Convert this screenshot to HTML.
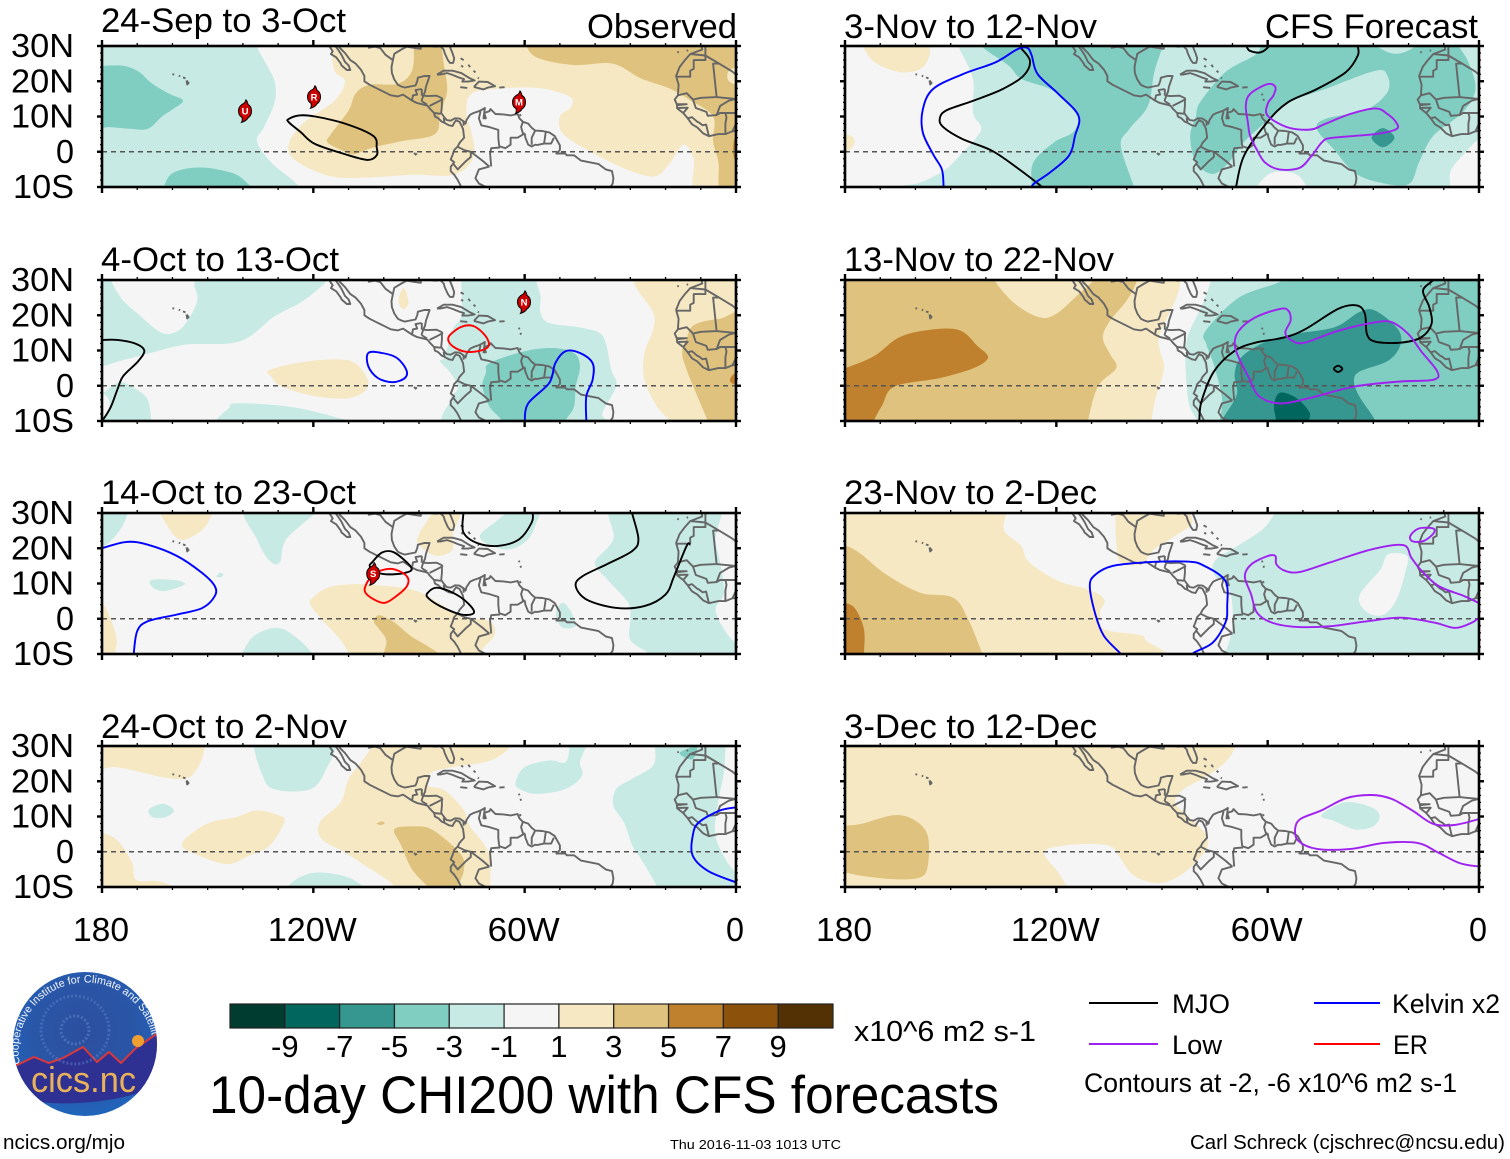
<!DOCTYPE html>
<html lang="en">
<head>
<meta charset="utf-8">
<title>10-day CHI200 with CFS forecasts</title>
<style>
html,body{margin:0;padding:0;background:#fff;}
svg{display:block;font-family:"Liberation Sans",sans-serif;}
</style>
</head>
<body>
<svg id="chart" xmlns="http://www.w3.org/2000/svg" width="1510" height="1159" viewBox="0 0 1510 1159">
  <g id="panels"></g>

  <g font-size="34" fill="#000">
    <text x="587" y="38" textLength="150" lengthAdjust="spacingAndGlyphs">Observed</text>
    <text x="1265" y="38" textLength="213" lengthAdjust="spacingAndGlyphs">CFS Forecast</text>
  </g>

  <g id="colorbar"></g>
  <text x="854" y="1041" font-size="29" textLength="182" lengthAdjust="spacingAndGlyphs">x10^6 m2 s-1</text>
  <text x="209" y="1113" font-size="53" textLength="790" lengthAdjust="spacingAndGlyphs">10-day CHI200 with CFS forecasts</text>

  <g font-size="27">
    <line x1="1089" x2="1158" y1="1003" y2="1003" stroke="#000" stroke-width="2"/>
    <text x="1172" y="1013" textLength="58" lengthAdjust="spacingAndGlyphs">MJO</text>
    <line x1="1314" x2="1380" y1="1003" y2="1003" stroke="#0000ff" stroke-width="2"/>
    <text x="1392" y="1013" textLength="108" lengthAdjust="spacingAndGlyphs">Kelvin x2</text>
    <line x1="1089" x2="1158" y1="1044" y2="1044" stroke="#a020f0" stroke-width="2"/>
    <text x="1172" y="1054" textLength="50" lengthAdjust="spacingAndGlyphs">Low</text>
    <line x1="1314" x2="1380" y1="1044" y2="1044" stroke="#ff0000" stroke-width="2"/>
    <text x="1393" y="1054" textLength="35" lengthAdjust="spacingAndGlyphs">ER</text>
    <text x="1084" y="1092" textLength="373" lengthAdjust="spacingAndGlyphs">Contours at -2, -6 x10^6 m2 s-1</text>
  </g>

  <g font-size="20">
    <text x="3" y="1149" textLength="122" lengthAdjust="spacingAndGlyphs">ncics.org/mjo</text>
    <text x="670" y="1149" font-size="13" textLength="171" lengthAdjust="spacingAndGlyphs">Thu 2016-11-03 1013 UTC</text>
    <text x="1190" y="1149" textLength="315" lengthAdjust="spacingAndGlyphs">Carl Schreck (cjschrec@ncsu.edu)</text>
  </g>

  <g>
    <defs>
      <radialGradient id="logoSky" cx="50%" cy="42%" r="60%">
        <stop offset="0" stop-color="#2c4f9e"/>
        <stop offset="0.6" stop-color="#2a56a8"/>
        <stop offset="1" stop-color="#1f66bd"/>
      </radialGradient>
      <clipPath id="logoClip"><circle cx="85" cy="1044" r="72"/></clipPath>
      <path id="logoArc" d="M 20 1064 A 66 66 0 1 1 152 1036"/>
    </defs>
    <circle cx="85" cy="1044" r="72" fill="url(#logoSky)"/>
    <g clip-path="url(#logoClip)">
      <path d="M10 1067 L17 1065 L34 1057 L49 1063 L63 1058 L83 1047 L97 1062 L109 1052 L121 1063 L136 1048 L158 1033 L160 1082 C140 1102 40 1112 14 1094 Z" fill="#2e3192"/>
      <path d="M10 1067 L17 1065 L34 1057 L49 1063 L63 1058 L83 1047 L97 1062 L109 1052 L121 1063 L136 1048 L158 1033" fill="none" stroke="#d8383a" stroke-width="2"/>
      <circle cx="138" cy="1041" r="6" fill="#f0a030"/>
      <circle cx="75" cy="1030" r="14" fill="none" stroke="#5c82c8" stroke-width="3" stroke-dasharray="2 2" opacity="0.6"/>
      <circle cx="75" cy="1030" r="34" fill="none" stroke="#5c82c8" stroke-width="3" stroke-dasharray="2 2" opacity="0.5"/>
    </g>
    <text font-size="10.8" fill="#f2f6ff"><textPath href="#logoArc">Cooperative Institute for Climate and Satellites</textPath></text>
    <text x="31" y="1092" font-size="36" fill="#e9b25a" textLength="105" lengthAdjust="spacingAndGlyphs">cics.nc</text>
  </g>
</svg>

<script>
/* ---------- axis definitions ---------- */
const lonTicks = [180, 120, 60, 0];
const lonTickLabels = ["180", "120W", "60W", "0"];
const latTicks = [30, 20, 10, 0, -10];
const latTickLabels = ["30N", "20N", "10N", "0", "10S"];
const panelTitles = ["24-Sep to 3-Oct", "4-Oct to 13-Oct", "14-Oct to 23-Oct", "24-Oct to 2-Nov", "3-Nov to 12-Nov", "13-Nov to 22-Nov", "23-Nov to 2-Dec", "3-Dec to 12-Dec"];
const colorbarLevels = [-9, -7, -5, -3, -1, 1, 3, 5, 7, 9];
const shadeKeys = ["t5", "t4", "t3", "t2", "t1", "w", "b1", "b2", "b3", "b4", "b5"];

/* ---------- shaded contours: [shade, [lonW, lat, ...]] ---------- */
const fillsP1 = [
 ["t1",[185,35,136,35,136,30,134,26,131,20,131,14,134,7,136,3,132,-3,124,-10,124,-15,185,-15]],
 ["t2",[185,22,176,24.5,170,23,166,19.5,161,16.5,157,14.5,160,12,163,10,167,6.5,172,6.5,178,7,185,7]],
 ["t2",[163,-12,161,-7,157,-5,151,-4.5,145,-5.5,141,-7,137,-11,137,-14,163,-14]],
 ["b1",[116,35,115,30,114,23,111,20,114,14.5,123,8,127,2,125,-2.5,115,-7,104,-7.3,92,-6.5,80,-6.5,74.5,-1.5,75,5,76.5,11,75,16.5,66,18,55.5,18,47,15.5,47,12.5,50,10,49,5,40,-0.7,30,-5.4,23,-7,19,-3.5,15,2,12,-2,11,-12,-5,-12,-5,35]],
 ["b2",[60,35,59.5,30,56,26.5,46,24.6,35,25,27,20.8,19,18,13,14.6,6.5,10,6.5,3,5,-3,4,-12,-5,-12,-5,35]],
 ["b3",[-2,5,0.5,3.5,0.5,-2,-2,-3]],
 ["b1",[-2,24,2,23,2,20,-2,19]],
 ["b2",[92,35,91.5,30,92,23,96,19.3,104,19,108,16.5,110,11.7,115,5,116,2.7,112,0.5,108.5,-0.7,103,1.2,95,3,85.5,5,84,11,82,17.4,83,25,83.5,30,83.5,35]]
];
const fillsP2 = [
 ["t1",[185,35,116,33,116,30,123,24,131,19.7,138,14,144,12,156,11.7,164.4,9.8,170,8.3,175,7,180,5.5,185,5]],
 ["w",[176,32,175,25.5,169,19.7,163,15,158.5,15.5,155.5,18.8,153,24,153.7,28,156,32]],
 ["t1",[175,1,170.3,-1,167,-4,166,-10,166,-13,185,-13,185,-2,180,-2]],
 ["w",[181,-2,178,-4,178.5,-8,181,-9]],
 ["t1",[145,-12,143.7,-6,142,-5,132,-5.4,122,-6.8,110,-10,105,-12]],
 ["b1",[132.4,4.5,121.8,6.9,110,7.2,105,2.7,105,-1.1,110,-3.5,119.4,-3,129,-0.2,132,2.7]],
 ["b1",[94.3,27.8,93,24,94,21.8,95.4,22.6,95.7,25]],
 ["t1",[78,35,78,30,78,20,80.4,16,82.7,8.3,84,6.9,81,3.6,79,-0.7,81,-4,80,-12,37,-12,38,-8,34,0,35.4,4.5,37.8,14,43.7,16.4,53,17.8,55.5,20.7,55.5,25.4,56.7,30,56.7,35]],
 ["t2",[70,6.4,60,9.8,52,10.7,46,9.3,44.3,5.5,45.5,-0.2,46,-6,48.4,-10,48.4,-13,66.7,-13,66.7,-9.7,70,-5.9,72,-0.2,71,3.6]],
 ["b1",[29,35,29,30,28,27.3,23.5,20.7,23.5,16,26,9.3,26,1.7,22.4,-6,18.8,-10,18,-13,-5,-13,-5,35]],
 ["b2",[-5,19.5,4.6,19,11.8,17.3,14,13.5,15.3,9.3,14,4.5,11.8,-1,8,-10,7,-13,-5,-13]],
 ["b3",[-2,4.5,1,3,1.5,1,-2,0]]
];
const fillsP3 = [
 ["t1",[185,35,172.7,33,172.7,30,175,25,180,20,185,19]],
 ["b1",[163,32,161,25.7,157.5,22.4,152.7,24.3,149.8,27.6,149.5,32]],
 ["t1",[139,32,136,22.5,132.4,16.4,129.5,16,127.7,22.5,119.4,30,118,32]],
 ["t1",[166,11,159.5,11,156.5,9.8,162,7.9,165.5,8.8]],
 ["t1",[147.5,12,146.5,13,145.5,12.6,146.3,11.8]],
 ["b1",[185,6,180,4.5,177.6,0,175.8,-6,176.4,-10,176,-13,185,-13]],
 ["t1",[140.7,-11,137,-5,130,-2.6,124,-6,119.4,-11,119,-13,141,-13]],
 ["b1",[120.6,5.5,116,8.8,108.8,9.8,99.3,9.3,92.2,8.3,87.5,6.4,78,0.8,70,-0.7,68.5,-4.5,72,-8.7,74,-13,110,-13,110,-10,112.3,-6,117.6,-0.2,120.6,3.6]],
 ["b2",[102.8,-0.7,101.6,1,99.3,0.3,96.9,-1.1,92.2,-5,87.5,-7.8,84.5,-10,84,-13,100,-13,100,-10,99.3,-6,101.6,-2.6]],
 ["b1",[90,24,86.3,30,85,33,78,33,78,30,80.4,24,80.4,19.7,84,17.8,87.4,18.8,90.4,21.6]],
 ["t1",[72.7,23.5,68.5,27.3,63,31,56,31,56.7,27.3,59,22.6,64,19.7,69.7,20.7]],
 ["t1",[50.9,2.7,49,4.5,46.7,1.7,45.5,-2,49,-2.6,50.9,-0.2]],
 ["t1",[34,33,34.8,22.6,40,16,36.6,11.2,30.6,4.5,30,0,30,-6,24.7,-10,24,-13,-5,-13,-5,-8,0,-6.8,3.4,-3,5.8,2.7,3.4,7.4,4.5,16,5.8,22.6,4,30,4,33]]
];
const fillsP4 = [
 ["b1",[185,33,150.8,33,150.8,30,152,25.4,155.5,21,162,21,169,22.6,176,24,180,23.5,185,23]],
 ["t1",[137,33,137,30,134.8,22.6,131.3,17.8,120.6,17.8,115.8,24.5,113.5,30,113,33]],
 ["t1",[166.7,12,162.6,13.6,159.6,11.7,162,9.8,165.6,9.8]],
 ["b1",[185,7,180,5.5,175.4,3,171.5,-3,170.3,-8,164.4,-8.3,160,-10,159,-13,185,-13]],
 ["b1",[157.3,2.2,150.3,7.9,142,9.8,136,11.7,129.5,10.2,128.3,8.3,132.4,1.7,138.3,-1.1,144.3,-3.5,152.5,-1.1]],
 ["t1",[128.3,-11,124,-7.3,118.4,-5.9,110,-7.3,104.6,-11,104,-13,129,-13]],
 ["b1",[103.4,33,103.4,30,106.4,25.4,110,20.7,112.3,14,118.2,8.3,117.6,3.6,111,-0.2,105.2,-4,99.3,-7.8,97,-10,96,-13,69.5,-13,69.7,-10,70.3,-0.2,75.6,7.4,77.4,12,82.7,17.4,87,18.5,87.5,20,86.3,22.6,80.4,24,69.7,25.9,63.8,30,63,33]],
 ["b2",[97,6.4,91,7.2,86.5,6.4,80.4,1.7,77.4,-2,77.4,-6,79,-10,79,-13,86,-13,87.5,-10,92,-5,95,1.7]],
 ["b2",[102,8,100.5,8.6,99.8,8,101,7.6]],
 ["t1",[62.6,19.7,60,24,53,25.9,48.4,25.4,47.2,30,47,32,42.5,32,42.5,30,44.3,25.4,43.7,21.6,48.4,17.8,56.7,16.4,61.4,17.8]],
 ["t1",[23,33,23,30,23.5,24.5,29.4,20.7,34,17.8,34.8,13,31.8,8.3,29.4,1.7,27,-2,22.4,-10,22,-13,-5,-13,-5,-6,0,-5.9,4,-0.2,5.8,4.5,5.8,9.3,4.5,17,3.4,22.6,3,30,3,33]],
 ["t2",[16,28,13,29.5,11,30,12,26.5,14,26.5]]
];
const fillsP5 = [
 ["b1",[176,33,175,30,171.6,25.4,164.4,22.6,158.5,23.5,156,27.3,156,30,156,33]],
 ["b1",[183,5.5,180,5,177.6,4,177.6,1.7,180,0,183,0]],
 ["t1",[148,33,147.8,30,143.7,20.7,143.7,11.2,141.3,6.9,143,3.6,146.6,-0.2,151.4,-5,158.5,-8.7,164.4,-10,165,-13,-5,-13,-5,33]],
 ["w",[8.2,-13,8.2,-10,8,-5.4,4.6,-1,0,3.6,-5,5,-5,-13]],
 ["w",[63.8,-11,59,-6,52,-6.3,48.4,-11,48,-14,64,-14]],
 ["t2",[141.3,33,141.3,30,133.6,24.5,130,20.7,121.8,17.8,117,14,113.7,9.8,115.3,5.5,120.6,2.7,126.5,-3,127,-10,127,-13,98,-13,98,-10,101.7,1.7,99.3,6.4,94,13,92.2,22.6,89.8,30,89.8,33]],
 ["t2",[62,33,62,30,63.8,27.3,72,22.6,79.2,14,80.4,9.8,82,4.5,80.4,-3,75.6,-6.3,71,-3,66.8,2.7,59,9.8,54.3,14,43.7,17.8,29.4,23,26,21.6,26,16.9,32,12,43.7,9.3,46,6.4,41.3,0.8,35.4,-5.9,28.3,-8.7,20,-9.2,17,-3,13,4.5,4.6,11.2,1,17.8,3,25.4,5.8,30,7,33,18,33,18,30,23.5,27.8,29,30,29,33]],
 ["t3",[30.5,4,27.3,6.7,24,4,27.3,1.3]]
];
const fillsP6 = [
 ["b1",[185,33,85,33,84.7,30,85.9,25,90.6,14.6,90.6,9.9,89.4,5,91.8,-3.5,93,-10,93,-13,185,-13]],
 ["b2",[185,33,97,33,97,30,100,24.2,104.7,18.5,106.8,13.7,104.7,8.9,103,5,108.2,-0.2,111,-10,111,-13,185,-13]],
 ["b1",[137.6,33,137.6,30,131.8,23.3,124.7,19.4,120,20.4,114,25.7,109.4,30,109,33]],
 ["b3",[185,4,180,5,171.8,8.4,164.7,13.7,156.5,15.8,147.6,15.8,142.4,11.3,139.4,8,143.5,5,153,2.2,165.9,-0.2,169.4,-5.5,171.8,-10,172,-13,185,-13]],
 ["t1",[76,33,76,30,79,22,82.4,15,83.3,10,83.3,5,82.4,-5,80,-10,80,-13,-5,-13,-5,33]],
 ["t2",[54,33,56.5,29.5,68.2,25,77.6,15.6,77.4,11.8,75.3,6,73,-3.5,73.6,-10,73.6,-13,-5,-13,-5,33]],
 ["t3",[73,-10,68.8,-2.6,69.4,3.2,67.6,8,61.2,12.2,53,14.6,41,16.6,34,20.9,29.4,21.3,23,16,22.4,11.3,26,7,34,4,35.5,1.2,34,-3,29.4,-10,29,-14,73,-14]],
 ["t4",[58.2,-5.5,56.5,-2,51.8,-3.5,48.2,-7.4,48.2,-10,48.2,-14,57.6,-14,57.6,-10]]
];
const fillsP7 = [
 ["b1",[185,33,134,33,134.2,30,134.8,25,130,20.7,127.7,16,119.4,10.7,111,8.3,106.4,5.5,107.6,1.7,106.4,-3,97,-4.5,94.8,-5.9,94.8,-13,185,-13]],
 ["b1",[103.2,33,103.2,30,103,22,101.8,16,96,15.5,92.2,19.7,86.3,23.5,81.6,26.8,82,30,82,33]],
 ["b2",[185,20,180,20.7,175.4,18.3,168.4,12.6,158.7,7.4,149.3,6,145,-0.2,141,-10,140,-13,185,-13]],
 ["b3",[185,5,180,4.5,177,2.7,174.6,-3,174.6,-10,174.6,-13,185,-13]],
 ["t1",[57,33,58,30,61.4,25.4,68.5,20.7,75,16.4,75,12.2,71.4,9.8,70,3.6,70.3,-4,72,-10,72,-13,-5,-13,-5,33]],
 ["w",[34,6.4,28,14,25.8,18.3,20.4,17.8,21,13,23.4,5.5,27,1.2,31.6,1.7]]
];
const fillsP8 = [
 ["b1",[185,33,68,33,69,30,72,25.4,78,21,83.8,17.8,86.3,14,82.7,10.2,78,5.5,77,1.7,80.4,-3,85,-6.8,91,-8.9,98,-6.8,101.7,-2,104,1.2,108.8,2.2,118.2,1.7,123.5,-0.2,119.4,-5.9,117,-10,116,-13,185,-13]],
 ["b2",[185,7,180,7.4,175.4,7.9,165.9,10.4,160,8.8,156.5,4.5,156.5,-4,158.7,-7.3,165.9,-7.8,175.4,-6.8,180,-5.9,185,-5.5]],
 ["t1",[44.8,10.2,40,13.5,35.4,14,29.4,12,28.3,9.3,30.6,6.9,35.4,6.4,41.3,8.8]]
];

/* ---------- wave contours: [type, closed, [lonW, lat, ...]] ---------- */
const linesP1 = [
 ["mjo",true,[127,9.3,124,10.3,119.5,10,111,8,103,4.5,102,1.2,102,-1,104.5,-2.3,110,-1,119.5,2.2,123.5,5.5,127,8.4]]
];
const linesP2 = [
 ["mjo",false,[183,13,180,13,175.6,13,170.6,12,168,10,169.7,7,174,2.7,175.6,-1,177.5,-6,180,-10,182,-12]],
 ["kelvin",true,[104.4,9.3,100.5,9.3,96.3,7.9,93.6,4.5,94,2.2,97.5,1,101.7,2.2,104.4,5.5]],
 ["er",true,[81.5,14,78,16.7,74.4,16.9,71,14,70.3,11.2,73.3,9.8,77.5,9.8,81,11.7]],
 ["kelvin",false,[60,-12,60,-10,59,-5,53,0.8,51.3,6.4,48.4,9.8,44.3,9.3,40.7,6.4,40.7,1.7,42.5,-3,42.5,-10,42.5,-12]]
];
const linesP3 = [
 ["mjo",false,[77.4,32,77.4,30,77.4,24.5,73.3,21.4,67.3,20.7,61.5,22.6,58,27.3,57.7,30,57.7,32]],
 ["mjo",false,[29.5,32,29.5,30,27.7,22.6,29.5,19.2,36.6,15.5,43.7,12,45.5,9.3,42.5,5.5,34.2,3.1,26,3.6,20,6.9,17.6,12,14,20.7,13,21]],
 ["mjo",true,[103.4,15.9,100.5,18.8,97,18.8,92.2,14.5,94,13,99.3,12.6,102.8,13.5,104,15]],
 ["mjo",true,[87.5,7.4,85,8.8,80.4,7.4,76.2,4.5,74.4,1.7,78,1.2,84,3.6,87.5,6]],
 ["er",true,[105.2,9.3,103.4,12,100.5,13.8,96.9,14,93.4,12,93.4,9.3,97,6,99.9,4.5,102.8,5.5,105.2,7.4]],
 ["kelvin",false,[182,19,180,20,173,21.8,167,21,158.7,17.8,151.6,13,148,9.3,148,6.4,151.6,3,158.7,1.2,167,-0.7,170,-3.5,171,-10,171,-12]]
];
const linesP4 = [
 ["kelvin",false,[-2,13,0,12.6,4.6,11.7,10.6,8.3,12.3,4.5,12.3,-1.1,8,-5.4,0,-8.7,-2,-9.5]]
];
const linesP5 = [
 ["mjo",false,[66.5,32,66,30,65,28.6,62,28.2,59.6,30,59,32]],
 ["mjo",false,[131,32,130.5,30,127.5,25.9,129.3,21.6,135.2,17.8,143.5,14.5,151.3,11.7,153.1,9.3,152,6.9,146.6,3.6,138.3,0.3,131.2,-4.5,124,-10,122,-12]],
 ["mjo",false,[69.4,-12,69,-10,66.7,-1.1,60.2,8.3,54.3,14,46,17.8,37.8,22.6,34.4,27.3,34.4,30,34.4,32]],
 ["kelvin",false,[152,-12,152,-10,152.5,-5,155,-0.7,157.9,5.5,157.9,12,155,17.8,146.6,22,137.2,25.4,131.2,29,128.3,29.5,127,27.3,125.3,22,119.4,16.4,113.7,10.2,114.7,4.5,116.4,-1.1,121.8,-5.9,126.5,-9.2,128,-12]],
 ["low",true,[60,19.2,57.8,18.3,58.4,15.9,60,13.6,60,10.2,54.3,6.9,47.8,6.3,43.7,7.9,36.6,10.7,29.4,12.3,26,10.7,23.5,8.3,23.5,6.4,29.4,5,41.3,4,44.3,3,47.2,-0.7,50.8,-4.5,56.7,-5,60.8,-3,63.2,0.8,65,4.5,65.6,8.3,66.2,13,65,16.4]]
];
const linesP6 = [
 ["mjo",false,[79.4,-12,79.4,-10,78.8,-4.5,75.3,4,69.4,9.9,63.5,12.2,55.3,13.7,49.4,16,40,21.8,34.7,22.8,32.4,20.4,31.8,14.6,29.4,12.5,22.4,12.2,16.5,13.7,13.5,17.5,14.1,22.3,15.9,27,13,30,12,32]],
 ["mjo",true,[41.2,4.8,40,5.7,38.8,4.8,40,3.9]],
 ["low",true,[56.5,21.8,54.1,21.3,53.5,18.5,55,15,52.9,12.7,49.4,12.2,40,15.6,29.4,18,24.7,18,20,14.6,16.5,9.9,11.8,4,13,1.7,22.4,1.2,35.3,-0.2,48.2,-3.5,56.5,-5,62.4,-3,65.3,2.2,68.2,8,69.4,11.8,68.2,15.6,63.5,19.4]]
];
const linesP7 = [
 ["kelvin",false,[100.5,-12,101.7,-10,106.4,-5,108.8,0.8,110.5,9.3,108.8,12.6,104,15,94.6,16,82.7,16.2,78,15,72,10.7,71.5,3.6,72,-1.1,75.6,-6.8,81,-9.7,83,-12]],
 ["low",false,[-2,1,0,0.3,2,-1.1,6.8,-2.6,12.7,-1.1,22.2,0.3,31.6,-0.7,42.2,-2.1,51.7,-2.3,58.8,-1.1,63,1.7,64.7,6.9,66.5,12,64.7,15.4,60,17.8,57.8,17.8,57.5,15.4,54.8,13.5,50.7,13.3,42.2,16,30.4,19.7,21.5,20.9,19.2,17.3,16.2,13.5,11.5,9.3,4.4,6.5,0,4.5,-2,4]],
 ["low",true,[19.5,23.5,17.1,25.6,13,25.6,13,24.1,15.9,22,18.9,22]]
];
const linesP8 = [
 ["low",false,[-2,10,0,9.3,7,7.6,13,7.9,18.9,11.7,24.8,15,30.6,16.1,37.7,15.2,44.8,11.7,50.7,9.3,52.2,6.4,51.3,3.1,46,0.8,36.4,0.8,27,2.5,17.5,2.5,11.6,-0.2,5.6,-3.2,0,-4.2,-2,-4.4]]
];

/* ---------- tropical storm tracks: [letter, lonW, lat] ---------- */
const stormsP1 = [["U",139.4,11.6],["R",119.8,15.6],["M",61.6,14.1]];
const stormsP2 = [["N",60.2,23.8]];
const stormsP3 = [["S",103,12.8]];

/* ---------- geography (lonW, lat) ---------- */
const coastPacific = [118,34,117,32.5,116,31,115.5,30,114.5,28.5,115,27.7,113.5,26.8,112.2,25,112,24.5,110.5,23.2,109.5,23.2,110,24.5,111,25.5,112,27.5,113,29,114.5,31,114.8,31.8,113.5,31.5,112.5,29.5,111,28,109.5,26,108,25,106.5,23.3,105.5,21.5,105.5,20,104,19,102,18,100,17,98,16,96,15.7,94.5,16.2,93,15.2,92,14.5,90.5,13.8,88,13.2,87.5,13,87,12.3,85.7,11,85.5,10,84.5,9.5,83.5,8.5,82.8,8.2,81.5,7.5,80.5,7.3,80,8.2,79.5,8.9,78.5,8.5,78,7.5,77.5,6.5,77.3,5,77.2,4,78.5,2.5,79,1.5,80,0.5,80.5,-1,81,-2.2,80,-3,81,-4.3,81,-5.5,80,-6.5,79,-8,78,-10,77,-12];
const coastAtlantic = [81,32,81.3,30,80.5,28,80,26.5,80.3,25.2,81.2,25.2,81.8,26,82.7,28,83,29,84,30,85.5,29.8,88,30.3,89.5,30,89.5,29.2,91,29.4,93.5,29.8,95,29,97,27.8,97.4,26,97.8,24,97.7,22.3,97,20.5,96,19,95,18.5,94,18.2,92.5,18.5,91,18.8,90.5,20,90.3,21,88.5,21.5,87,21.5,87.5,20,88,18.5,88.3,17,88.8,15.9,87.5,15.8,85,15.9,83.5,15.2,83.5,13,83.7,11,83,10,82.2,9,81,8.8,79.8,9.5,78.5,9.4,77.3,8.6,76.8,8,76.5,9,75.5,10.5,74.5,11,73,11.5,72,12,71.3,12.4,71.5,11,71.7,9.5,71,9.5,71.5,11,70,11.5,69.7,12.1,68.3,10.7,66,10.6,64,10.3,62,10.7,61.5,9.5,60.5,8.5,59,8,58,6.8,57,6,55,5.9,53,5.5,51.5,4.5,50,1.8,50,0.5,51,-0.5,50,-0.5,48.5,-0.5,48,-1,46,-1,44,-2.5,41.5,-3,39,-3.5,37,-5,35.2,-5.5,34.8,-7.5,35,-9,36,-10.5,37,-12];
const coastAfrica = [9.5,31,9.8,30,9.6,29,13,27.7,14.5,26,16,24,17,21.5,16.3,19,16.5,16,17.4,14.8,16.8,13.5,16.7,12.3,15,11,13.7,9.5,12.5,7.8,11,6.9,9.3,5.2,7.7,4.4,5,5,3,5,1,5.8,-1,6];
const islandGroups = [
 [84.9,21.9,83,23,80.5,23,78,22.3,75.5,20.8,74.2,20.2,76,19.9,77.7,19.9,77.2,20.6,78.5,21,80.5,21.8,82,22.3,84,21.9,84.9,21.9],
 [74.4,18.4,73,19.9,70.5,19.8,68.4,18.6,70.5,18.2,71.7,17.7,74.4,18.4],
 [78.3,18.3,76.3,18.1],[67.2,18.2,65.7,18.3],[78.2,26.5,77.3,26],[78,24.5,77.5,24],[76,24.7,75.5,24],[74.5,23,74,22.5],[73.3,21,73,20.8],
 [61.6,16.5,61.5,16],[61.2,15,61,14.5],[61.5,10.6,61,10.2],
 [160,22,159.5,21.9],[158.2,21.6,157.8,21.4],[157,21.1,156.3,20.8],[156,20.2,155.4,19.5,155.8,19.1,156,20.2],
 [91.4,-0.3,91,-0.8,90.6,-0.5],[16.7,28.3,16.2,28.2],[14,28.6,13.6,28.8]
];
const borderLines = [
 [104.5,29.5,102.5,29.8,101,29.4,99.5,27.5,97.4,26],
 [92,14.5,91.7,16,90.5,16.2,91,17.5,89.2,17.8],[89.2,17.8,89.2,15.9],[88.8,15.9,89.3,14.4],[89.3,14.4,87.7,13.4],[87,13,85,14,83.2,15],[85.7,11,84,10.8,83.7,10.9],[83,9.6,82.8,8.2],[77.4,8.6,77.3,7.4],
 [60.5,8.5,61,7,60.5,5.2,60,5.2],[60,5.2,59.8,4,59,2,58,1.5,57,2,56.5,1.9],[57,6,58,4,58,2],[54,5.7,54.3,3.5,54.5,2.3],[56.5,1.9,54.5,2.3,52.5,2.3,51.7,4],
 [60,5.2,62,4,64,4,64,2,65.5,1,67,1.5],[72.5,11.5,73,9.5,72.3,7.5,70,7,67.5,6.2,67.5,4,67.3,2,67,1.2],[67,1.2,69.5,1,69.8,-0.5,69.5,-4.2],[79,1.4,77,0.4,75.3,0,74,-1,72,-2.5,70,-4.2],[75.3,0,75.3,-1.5,76.5,-2.5,78.5,-4.5,79,-5,80.3,-3.4],[70,-4.2,73,-5,74,-7.5,73,-9,71,-10,70.5,-11],
 [8.7,30,8.7,27.3,13,27.7],[8.7,27.3,8.7,26,12,26,12,23.5,13,23,13,21.3,16.5,21.3,17,21],[8.7,27.3,4.8,25,1,22.7,-1,21],[4.8,25,6.5,25,5.5,15.5,10,15.3,12.2,14.8,14,16.6,16.5,16],[16.7,13.5,14,13.5,16.7,13.2],[16.8,12.4,13.7,12.5,15,11],[13.7,9.5,12.5,9.8,11,8.5,10.5,8.3,9.5,7.5,8.5,7.7,7.7,4.4],[12.2,14.8,11.4,12.4,8.4,11.3,8,10.2,5.5,10.4,4.5,11,3,11,1,11,0,11],[3,5,3,8,2.7,9.7,3,11],[1,5.8,0,8,0,11],[5.5,10.4,4.5,13,2,14.5,0,15],[5.5,15.5,3.5,15.3,0,15]
];

/* ---------- rendering ---------- */
const SVGNS = "http://www.w3.org/2000/svg";
const shadeColors = {t5:"#003c30",t4:"#01665e",t3:"#35978f",t2:"#80cdc1",t1:"#c7eae5",w:"#f5f5f5",b1:"#f6e8c3",b2:"#dfc27d",b3:"#bf812d",b4:"#8c510a",b5:"#543005"};
const lineColors = {mjo:"#000000",kelvin:"#0000ff",low:"#a020f0",er:"#ff0000"};
const panelLefts = [102,102,102,102,845,845,845,845];
const panelTops = [46,280,513,746,46,280,513,746];
const panelFills = [fillsP1,fillsP2,fillsP3,fillsP4,fillsP5,fillsP6,fillsP7,fillsP8];
const panelLines = [linesP1,linesP2,linesP3,linesP4,linesP5,linesP6,linesP7,linesP8];
const panelStorms = [stormsP1,stormsP2,stormsP3,[],[],[],[],[]];
const titleWidths = [245,238,255,246,253,270,253,253];
const titleBaselines = [32,271,504,738,38,271,504,738];
const lonLabelWidths = [56,89,72,18];
const latLabelWidths = [63,63,63,18,61];
const PW = 634, PH = 141;

function mk(tag, parent, attrs) {
  const el = document.createElementNS(SVGNS, tag);
  for (const k in attrs) el.setAttribute(k, attrs[k]);
  parent.appendChild(el);
  return el;
}
const xScale = lon => (180 - lon) / 180 * PW;
const yScale = lat => (30 - lat) / 40 * PH;
function project(flat) {
  const out = [];
  for (let i = 0; i < flat.length; i += 2) out.push([xScale(flat[i]), yScale(flat[i + 1])]);
  return out;
}
function smoothPath(flat, closed) {
  const p = project(flat), n = p.length;
  const get = i => closed ? p[(i + n) % n] : p[Math.max(0, Math.min(n - 1, i))];
  let d = "M" + p[0][0].toFixed(1) + " " + p[0][1].toFixed(1);
  const end = closed ? n : n - 1;
  for (let i = 0; i < end; i++) {
    const a = get(i - 1), b = get(i), c = get(i + 1), e = get(i + 2);
    d += "C" + (b[0] + (c[0] - a[0]) / 6).toFixed(1) + " " + (b[1] + (c[1] - a[1]) / 6).toFixed(1) + " " +
      (c[0] - (e[0] - b[0]) / 6).toFixed(1) + " " + (c[1] - (e[1] - b[1]) / 6).toFixed(1) + " " +
      c[0].toFixed(1) + " " + c[1].toFixed(1);
  }
  return d + (closed ? "Z" : "");
}
function straightPath(flat) {
  return project(flat).map((q, i) => (i ? "L" : "M") + q[0].toFixed(1) + " " + q[1].toFixed(1)).join("");
}

const panelsRoot = document.getElementById("panels");
const defs = mk("defs", panelsRoot, {});
const clip = mk("clipPath", defs, {id: "panelClip"});
mk("rect", clip, {x: 0, y: 0, width: PW, height: PH});

panelTitles.forEach((title, idx) => {
  const g = mk("g", panelsRoot, {transform: "translate(" + panelLefts[idx] + " " + panelTops[idx] + ")"});
  
  

  const inner = mk("g", g, {"clip-path": "url(#panelClip)"});
  const bg = mk("rect", inner, {x: 0, y: 0, width: PW, height: PH, fill: shadeColors.w});
  
  

  panelFills[idx].forEach(f => {
    const shade = mk("path", inner, {d: smoothPath(f[1], true), fill: shadeColors[f[0]]});
    
    
  });

  const geo = mk("g", inner, {fill: "none", stroke: "#666", "stroke-width": 1.9, "stroke-linejoin": "round"});
  
  
  [coastPacific, coastAtlantic, coastAfrica].concat(islandGroups, borderLines).forEach(seg => {
    mk("path", geo, {d: straightPath(seg)});
  });

  const eq = mk("line", inner, {x1: 0, x2: PW, y1: yScale(0), y2: yScale(0), stroke: "#555", "stroke-width": 1.6, "stroke-dasharray": "5 4"});
  
  

  panelLines[idx].forEach(l => {
    const wave = mk("path", inner, {d: smoothPath(l[2], l[1]), fill: "none", stroke: lineColors[l[0]], "stroke-width": 1.9});
    
    
  });

  const frame = mk("rect", g, {x: 0, y: 0, width: PW, height: PH, fill: "none", stroke: "#000", "stroke-width": 2.6});
  
  

  const ticks = mk("g", g, {stroke: "#000", "stroke-width": 1.5});
  
  
  for (let lon = 180; lon >= 0; lon -= 10) {
    const major = lonTicks.includes(lon), len = major ? 6 : 3, x = xScale(lon);
    mk("line", ticks, {x1: x, x2: x, y1: -len, y2: 0, "stroke-width": major ? 2.4 : 1.3});
    mk("line", ticks, {x1: x, x2: x, y1: PH, y2: PH + len, "stroke-width": major ? 2.4 : 1.3});
  }
  for (let lat = 30; lat >= -10; lat -= 2) {
    const major = latTicks.includes(lat), len = major ? 5 : 2, y = yScale(lat);
    mk("line", ticks, {x1: -len, x2: 0, y1: y, y2: y, "stroke-width": major ? 2.4 : 1.2});
    mk("line", ticks, {x1: PW, x2: PW + len, y1: y, y2: y, "stroke-width": major ? 2.4 : 1.2});
  }

  const ttl = mk("text", panelsRoot, {x: panelLefts[idx] - 1, y: titleBaselines[idx], "font-size": 34, textLength: titleWidths[idx], lengthAdjust: "spacingAndGlyphs"});
  ttl.textContent = title;
  
  

  if (idx < 4) {
    latTicks.forEach((lat, i) => {
      const w = latLabelWidths[i];
      const t = mk("text", panelsRoot, {x: 74 - w, y: panelTops[idx] + yScale(lat) + 11, "font-size": 33, textLength: w, lengthAdjust: "spacingAndGlyphs"});
      t.textContent = latTickLabels[i];
      
      
    });
  }
  if (idx === 3 || idx === 7) {
    lonTicks.forEach((lon, i) => {
      const w = lonLabelWidths[i];
      const cx = panelLefts[idx] + xScale(lon) - 1;
      const t = mk("text", panelsRoot, {x: cx - w / 2, y: 941, "font-size": 33, textLength: w, lengthAdjust: "spacingAndGlyphs"});
      t.textContent = lonTickLabels[i];
      
      
    });
  }

  panelStorms[idx].forEach(s => {
    const sg = mk("g", g, {transform: "translate(" + xScale(s[1]).toFixed(1) + " " + yScale(s[2]).toFixed(1) + ")"});
    
    
    mk("path", sg, {d: "M1 -11C0.5 -9.5 0 -8.5 -1 -7.5C-4 -6.5 -6.5 -3.5 -6.5 0C-6.5 3 -5 5.5 -3 6.5C-2.5 8.5 -2.5 10 -3.5 11.5C0 10.5 2 9 3 7C5.5 5.5 6.5 3 6.5 0C6.5 -3 5 -5.5 3 -6.5C2.5 -8.5 2.2 -10 1 -11Z", fill: "#cc0000", stroke: "#000", "stroke-width": 1});
    const letter = mk("text", sg, {x: 0, y: 3.5, "font-size": 9.5, "font-weight": "bold", "text-anchor": "middle", fill: "#fff"});
    letter.textContent = s[0];
  });
});

/* colorbar */
const barRoot = document.getElementById("colorbar");
const barX = v => 230 + (v + 11) / 22 * 603;
shadeKeys.forEach((key, i) => {
  const v0 = -11 + i * 2;
  const cell = mk("rect", barRoot, {x: barX(v0), y: 1004, width: barX(v0 + 2) - barX(v0), height: 24, fill: shadeColors[key], stroke: "#222", "stroke-width": 1.2});
  
  
});
colorbarLevels.forEach(v => {
  const t = mk("text", barRoot, {x: barX(v), y: 1057, "font-size": 31, "text-anchor": "middle"});
  t.textContent = String(v);
  
  
});
</script>
</body>
</html>
